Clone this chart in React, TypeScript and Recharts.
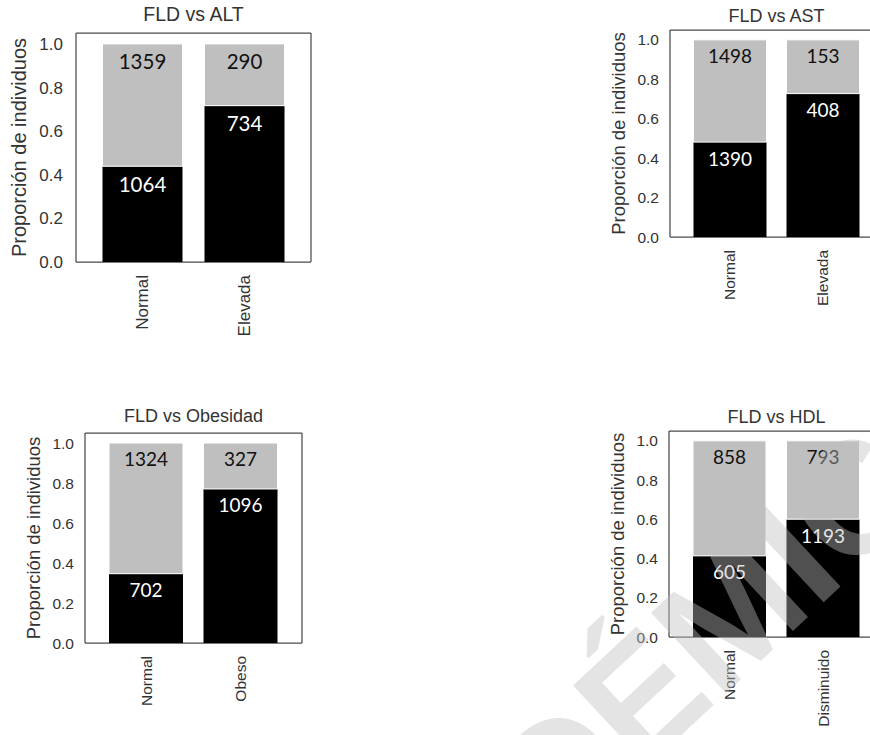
import { Bar, BarChart, CartesianGrid, LabelList, XAxis, YAxis } from "recharts";

// Conteos por categoría: con FLD (negro) y sin FLD (gris)
const categoriasALT = ["Normal", "Elevada"];
const fldALT = [1064, 734];
const noFldALT = [1359, 290];

const categoriasAST = ["Normal", "Elevada"];
const fldAST = [1390, 408];
const noFldAST = [1498, 153];

const categoriasObesidad = ["Normal", "Obeso"];
const fldObesidad = [702, 1096];
const noFldObesidad = [1324, 327];

const categoriasHDL = ["Normal", "Disminuido"];
const fldHDL = [605, 1193];
const noFldHDL = [858, 793];

const yTicks = [0, 0.2, 0.4, 0.6, 0.8, 1.0];

const FONT = "'Liberation Sans', Arial, sans-serif";
const NUM_FONT = "Lato, 'Open Sans', sans-serif";
const TEXT = "#333333";
const FRAME = "#4a4a4a";
const AXIS_W = 76;

type Row = {
  categoria: string;
  fld: number;
  noFld: number;
  fldProp: number;
  noFldProp: number;
};

// proporciones apiladas a partir de los conteos
const buildRows = (cats: string[], fld: number[], noFld: number[]): Row[] =>
  cats.map((c, i) => {
    const total = fld[i] + noFld[i];
    return {
      categoria: c,
      fld: fld[i],
      noFld: noFld[i],
      fldProp: fld[i] / total,
      noFldProp: noFld[i] / total,
    };
  });

const VerticalTick = (props: any) => {
  const { x, y, payload, fontSize } = props;
  return (
    <text
      x={x}
      y={y}
      transform={`rotate(-90 ${x} ${y})`}
      textAnchor="end"
      dy="0.35em"
      fontSize={fontSize}
      fontFamily={FONT}
      fill={TEXT}
    >
      {payload.value}
    </text>
  );
};

type PanelProps = {
  title: string;
  rows: Row[];
  frameX: number;
  frameY: number;
  frameW: number;
  frameH: number;
  pad: number;
  barSize: number;
  labelX: number;
  titleY: number;
  tickFont: number;
  titleFont: number;
  labelFont: number;
  numFont: number;
  yGap: number;
  labelOffset: number;
};

const Panel = (p: PanelProps) => {
  const left = p.frameX - AXIS_W;
  const mt = 2;
  const xh = 100;
  return (
    <>
      <div
        style={{
          position: "absolute",
          left: p.frameX,
          width: p.frameW,
          top: p.titleY - p.titleFont * 0.6,
          textAlign: "center",
          fontFamily: FONT,
          fontWeight: 400,
          fontSize: p.titleFont,
          lineHeight: `${p.titleFont * 1.2}px`,
          color: TEXT,
          whiteSpace: "nowrap",
        }}
      >
        {p.title}
      </div>
      <div style={{ position: "absolute", left, top: p.frameY - mt }}>
        <BarChart
          width={AXIS_W + p.frameW + 4}
          height={mt + p.frameH + xh}
          data={p.rows}
          margin={{ top: mt, right: 4, left: 0, bottom: 0 }}
        >
          {/* marco del área de trazado */}
          <CartesianGrid
            stroke={FRAME}
            strokeWidth={1.25}
            horizontalPoints={[mt, mt + p.frameH]}
            verticalPoints={[AXIS_W, AXIS_W + p.frameW]}
          />
          <XAxis
            dataKey="categoria"
            padding={{ left: p.pad, right: p.pad }}
            height={xh}
            tickLine={false}
            tickSize={0}
            tickMargin={13}
            interval={0}
            axisLine={false}
            tick={<VerticalTick fontSize={p.tickFont} />}
          />
          <YAxis
            width={AXIS_W}
            domain={[0, 1.05]}
            ticks={yTicks}
            tickFormatter={(v: number) => v.toFixed(1)}
            tickLine={false}
            tickSize={0}
            tickMargin={p.yGap}
            axisLine={false}
            tick={{ fill: TEXT, fontSize: p.tickFont, fontFamily: FONT }}
            label={{
              value: "Proporción de individuos",
              angle: -90,
              position: "insideLeft",
              offset: p.labelX - left,
              textAnchor: "middle",
              fill: TEXT,
              fontSize: p.labelFont,
              fontFamily: FONT,
            }}
          />
          <Bar dataKey="fldProp" stackId="a" fill="#000000" barSize={p.barSize} isAnimationActive={false}>
            <LabelList
              dataKey="fld"
              position="insideTop"
              offset={p.labelOffset}
              fill="#ffffff"
              fontSize={p.numFont}
              fontFamily={NUM_FONT}
            />
          </Bar>
          <Bar
            dataKey="noFldProp"
            stackId="a"
            fill="#bfbfbf"
            stroke="#ffffff"
            strokeWidth={1}
            barSize={p.barSize}
            isAnimationActive={false}
          >
            <LabelList
              dataKey="noFld"
              position="insideTop"
              offset={p.labelOffset}
              fill="#111111"
              fontSize={p.numFont}
              fontFamily={NUM_FONT}
            />
          </Bar>
        </BarChart>
      </div>
    </>
  );
};

export default function App() {
  return (
    <div
      style={{
        position: "absolute",
        left: 0,
        top: 0,
        width: 870,
        height: 735,
        overflow: "hidden",
        background: "#ffffff",
      }}
    >
      <Panel
        title="FLD vs ALT"
        rows={buildRows(categoriasALT, fldALT, noFldALT)}
        frameX={76}
        frameY={33}
        frameW={235}
        frameH={229}
        pad={15.5}
        barSize={80}
        labelX={19}
        titleY={15}
        tickFont={17}
        titleFont={19.5}
        labelFont={20}
        numFont={20.5}
        yGap={13}
        labelOffset={11}
      />
      <Panel
        title="FLD vs AST"
        rows={buildRows(categoriasAST, fldAST, noFldAST)}
        frameX={670}
        frameY={30}
        frameW={213}
        frameH={207}
        pad={13.5}
        barSize={73}
        labelX={618}
        titleY={17}
        tickFont={15.5}
        titleFont={18}
        labelFont={18.5}
        numFont={19}
        yGap={11}
        labelOffset={10}
      />
      <Panel
        title="FLD vs Obesidad"
        rows={buildRows(categoriasObesidad, fldObesidad, noFldObesidad)}
        frameX={85}
        frameY={433}
        frameW={217}
        frameH={210}
        pad={14}
        barSize={74}
        labelX={33}
        titleY={417}
        tickFont={15.5}
        titleFont={18}
        labelFont={18.5}
        numFont={19}
        yGap={11}
        labelOffset={10}
      />
      <Panel
        title="FLD vs HDL"
        rows={buildRows(categoriasHDL, fldHDL, noFldHDL)}
        frameX={669}
        frameY={431}
        frameW={215}
        frameH={206}
        pad={14}
        barSize={73}
        labelX={617}
        titleY={418}
        tickFont={15.5}
        titleFont={18}
        labelFont={18.5}
        numFont={19}
        yGap={11}
        labelOffset={10}
      />
      <svg
        width={870}
        height={735}
        style={{ position: "absolute", left: 0, top: 0, pointerEvents: "none" }}
      >
        <text
          x={663}
          y={752}
          transform="rotate(-43 663 752)"
          textAnchor="middle"
          fontSize={160}
          fontWeight="bold"
          fontFamily={FONT}
          fill="#bebebe"
          fillOpacity={0.42}
        >
          ACADÉMICO
        </text>
      </svg>
    </div>
  );
}
